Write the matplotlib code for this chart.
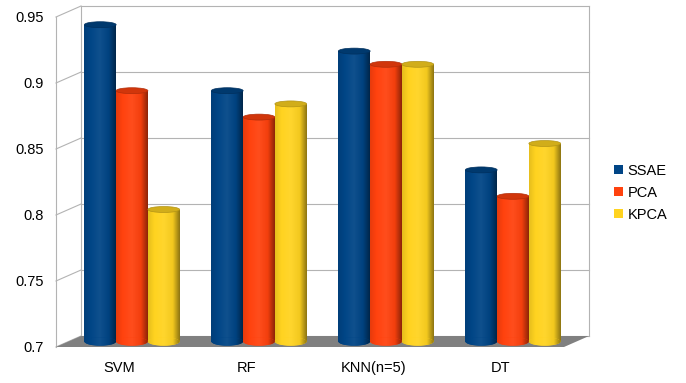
import numpy as np
import matplotlib
matplotlib.use("Agg")
import matplotlib.pyplot as plt
from matplotlib.colors import LinearSegmentedColormap, to_rgb
from matplotlib.patches import Ellipse, Polygon, Patch

plt.rcParams['font.family'] = ['Liberation Sans', 'DejaVu Sans']

categories = ['SVM', 'RF', 'KNN(n=5)', 'DT']
series_names = ['SSAE', 'PCA', 'KPCA']
ssae = [0.94, 0.89, 0.92, 0.83]
pca = [0.89, 0.87, 0.91, 0.81]
kpca = [0.80, 0.88, 0.91, 0.85]
colors = ['#004586', '#ff420e', '#ffd320']
yticks = [0.7, 0.75, 0.8, 0.85, 0.9, 0.95]
ytick_labels = ['0.7', '0.75', '0.8', '0.85', '0.9', '0.95']

YMIN, YMAX = 0.7, 0.95
# oblique depth of the box, in data units
DX, DY = 0.197, 0.00833
BAR_W = 0.25
CAP_H = 0.0045
GRID = '#b3b3b3'

fig = plt.figure(figsize=(6.86, 3.83), dpi=100)
ax = fig.add_axes([56 / 686, 36 / 383, 508 / 686, 330 / 383])
ax.set_xlim(-0.5, 3.5)
ax.set_ylim(YMIN, YMAX)
for s in ax.spines.values():
    s.set_visible(False)

# back wall and left side wall
x0, x1 = -0.5, 3.5
for t in yticks:
    ax.plot([x0 + DX, x1 + DX], [t + DY, t + DY], color=GRID, lw=0.8, clip_on=False, zorder=1)
    ax.plot([x0, x0 + DX], [t, t + DY], color=GRID, lw=0.8, clip_on=False, zorder=1)
ax.plot([x0, x0], [YMIN, YMAX], color=GRID, lw=0.8, clip_on=False, zorder=1)
ax.plot([x0 + DX, x0 + DX], [YMIN + DY, YMAX + DY], color=GRID, lw=0.8, clip_on=False, zorder=1)
ax.plot([x1 + DX, x1 + DX], [YMIN + DY, YMAX + DY], color=GRID, lw=0.8, clip_on=False, zorder=1)

# floor
floor = Polygon([[x0, YMIN], [x1, YMIN], [x1 + DX, YMIN + DY], [x0 + DX, YMIN + DY]],
                closed=True, facecolor='#808080', edgecolor='none', clip_on=False, zorder=2)
ax.add_patch(floor)


def shade(c, f):
    r, g, b = to_rgb(c)
    if f < 1:
        return (r * f, g * f, b * f)
    return (r + (1 - r) * (f - 1), g + (1 - g) * (f - 1), b + (1 - b) * (f - 1))


grad = np.linspace(0, 1, 128).reshape(1, -1)
x = np.arange(len(categories))
base = YMIN + DY / 2
for i, (vals, col) in enumerate(zip([ssae, pca, kpca], colors)):
    cmap = LinearSegmentedColormap.from_list(
        series_names[i],
        [(0, shade(col, 0.9)), (0.2, shade(col, 1.0)), (0.5, shade(col, 1.06)),
         (0.78, shade(col, 0.95)), (1, shade(col, 0.55))])
    xs = x + (i - 1) * BAR_W + DX / 2
    z = 3 + i
    # cylinders sit halfway into the box depth
    tops = np.array(vals) + DY / 2
    bars = ax.bar(xs, tops - base, bottom=base, width=BAR_W,
                  color=col, edgecolor='none', zorder=z)
    for xc, v, rect in zip(xs, tops, bars.patches):
        left, right = xc - BAR_W / 2, xc + BAR_W / 2
        img = ax.imshow(grad, cmap=cmap, aspect='auto', extent=[left, right, base - CAP_H, v],
                        zorder=z, interpolation='bilinear')
        img.set_clip_path(rect)
        bottom = Ellipse((xc, base), BAR_W, CAP_H * 1.4, facecolor=col,
                         edgecolor='none', zorder=z)
        ax.add_patch(bottom)
        img2 = ax.imshow(grad, cmap=cmap, aspect='auto', extent=[left, right, base - CAP_H, v],
                         zorder=z, interpolation='bilinear')
        img2.set_clip_path(bottom)
        top = Ellipse((xc, v), BAR_W, CAP_H, facecolor=shade(col, 0.82),
                      edgecolor=shade(col, 0.7), lw=0.5, zorder=z + 0.5)
        ax.add_patch(top)

ax.set_xlim(-0.5, 3.5)
ax.set_ylim(YMIN, YMAX)
ax.set_yticks(yticks)
ax.set_yticklabels(ytick_labels)
ax.set_xticks(x)
ax.set_xticklabels(categories)
ax.tick_params(axis='y', length=0, pad=9, labelsize=10.5, labelcolor='#000000')
ax.tick_params(axis='x', length=0, pad=10, labelsize=10.5)

handles = [Patch(facecolor=c, edgecolor='none') for c in colors]
fig.legend(handles, series_names, loc='upper left', bbox_to_anchor=(608 / 686, 1 - 158 / 383),
           frameon=False, fontsize=10.5, handlelength=0.6, handleheight=0.6,
           handletextpad=0.35, labelspacing=0.55, borderaxespad=0)

fig.savefig('out.png', dpi=100)
